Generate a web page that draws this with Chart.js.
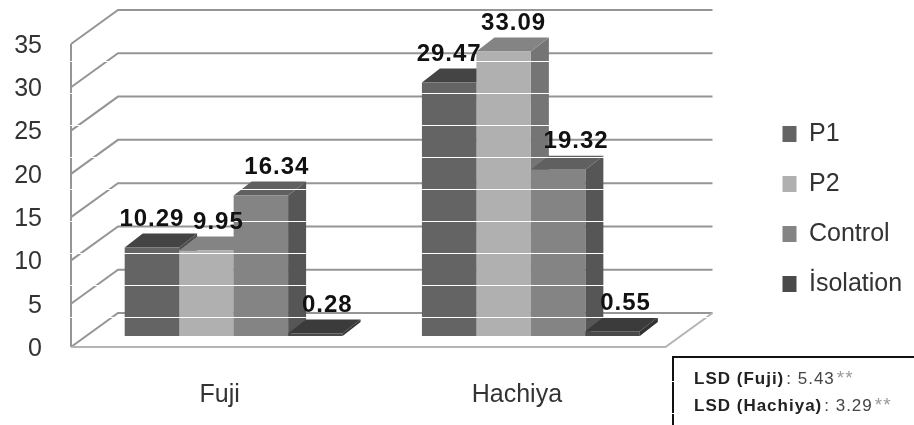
<!DOCTYPE html>
<html>
<head>
<meta charset="utf-8">
<style>
  html, body { margin: 0; padding: 0; background: #fff; }
  #wrap { position: relative; width: 914px; height: 425px; overflow: hidden; }
</style>
<script src="https://cdn.jsdelivr.net/npm/chart.js@4"></script>
</head>
<body>
<div id="wrap"><canvas id="statsChart" width="914" height="425"></canvas></div>
<script>
const categories = ['Fuji', 'Hachiya'];
const p1Values = [10.29, 29.47];
const p2Values = [9.95, 33.09];
const controlValues = [16.34, 19.32];
const isolationValues = [0.28, 0.55];
const lsdNotes = [
    ['LSD (Fuji)', ': 5.43', '**'],
    ['LSD (Hachiya)', ': 3.29', '**']
];

const FONT = '"Liberation Sans", Arial, sans-serif';
const WALL_DX = 47, WALL_DY = -34;   // depth of the chart floor
const BAR_DX = 18, BAR_DY = -14;     // depth of a single bar
const BAR_SHIFT = 14;                // bars sit right of the category centre

// shades for the 3d faces, one per dataset
const topColors = ['#444444', '#848484', '#606060', '#3b3b3b'];
const sideColors = ['#4e4e4e', '#757575', '#565656', '#333333'];
// data label nudges, the labels are not centred over the bars in the original
const labelNudge = [[0, 0], [12, 10], [16, 18], [12, 13]];

const threeD = {
    id: 'threeD',
    beforeDatasetsDraw(chart) {
        const c = chart.ctx, y = chart.scales.y, a = chart.chartArea;
        c.save();
        c.lineWidth = 2;
        c.strokeStyle = '#959595';
        y.ticks.forEach(t => {
            const py = y.getPixelForValue(t.value);
            c.beginPath();
            c.moveTo(a.left, py);
            c.lineTo(a.left + WALL_DX, py + WALL_DY);
            c.lineTo(a.right + WALL_DX, py + WALL_DY);
            c.stroke();
        });
        c.beginPath();
        c.moveTo(a.left, a.top);
        c.lineTo(a.left, a.bottom);
        c.stroke();
        // floor front and right edge
        c.strokeStyle = '#b4b4b4';
        c.beginPath();
        c.moveTo(a.left, a.bottom);
        c.lineTo(a.right, a.bottom);
        c.lineTo(a.right + WALL_DX, a.bottom + WALL_DY);
        c.stroke();
        c.restore();
    },
    // chart.js paints the last dataset first, here the first one has to go first
    beforeDatasetDraw() {
        return false;
    },
    afterDatasetsDraw(chart) {
        const c = chart.ctx;
        c.save();
        c.translate(BAR_SHIFT, 0);
        chart.data.datasets.forEach((ds, i) => {
            chart.getDatasetMeta(i).data.forEach(b => {
                const l = b.x - b.width / 2, r = b.x + b.width / 2;
                c.fillStyle = sideColors[i];
                c.beginPath();
                c.moveTo(r, b.y);
                c.lineTo(r + BAR_DX, b.y + BAR_DY);
                c.lineTo(r + BAR_DX, b.base + BAR_DY);
                c.lineTo(r, b.base);
                c.closePath();
                c.fill();
                c.fillStyle = topColors[i];
                c.beginPath();
                c.moveTo(l, b.y);
                c.lineTo(l + BAR_DX, b.y + BAR_DY);
                c.lineTo(r + BAR_DX, b.y + BAR_DY);
                c.lineTo(r, b.y);
                c.closePath();
                c.fill();
                b.draw(c);
            });
        });
        c.restore();
        c.save();
        // the boxed LSD note
        c.strokeStyle = '#111';
        c.lineWidth = 2;
        c.beginPath();
        c.moveTo(673, 425);
        c.lineTo(673, 357);
        c.lineTo(914, 357);
        c.stroke();
        // white scan lines that run through the original picture
        c.fillStyle = '#fff';
        for (let py = 61; py < 425; py += 32) {
            c.fillRect(60, py, 710, 1);
        }
        c.textBaseline = 'middle';
        c.letterSpacing = '1px';
        lsdNotes.forEach((parts, k) => {
            const py = 379 + k * 27;
            let px = 694;
            const colors = ['#222', '#444', '#999'];
            const fonts = ['bold 17px ', '17px ', '19px '];
            parts.forEach((s, n) => {
                c.font = fonts[n] + FONT;
                c.fillStyle = colors[n];
                c.fillText(s, px, py);
                px += c.measureText(s).width + 2;
            });
        });
        c.font = 'bold 24px ' + FONT;
        c.letterSpacing = '1px';
        c.fillStyle = '#111';
        c.textAlign = 'center';
        chart.data.datasets.forEach((ds, i) => {
            chart.getDatasetMeta(i).data.forEach((b, j) => {
                c.fillText(String(ds.data[j]), b.x + BAR_SHIFT + labelNudge[i][j], b.y - 28);
            });
        });
        c.restore();
    }
};

new Chart(document.getElementById('statsChart'), {
    type: 'bar',
    data: {
        labels: categories,
        datasets: [
            { label: 'P1', data: p1Values, backgroundColor: '#646464' },
            { label: 'P2', data: p2Values, backgroundColor: '#b0b0b0' },
            { label: 'Control', data: controlValues, backgroundColor: '#848484' },
            { label: 'İsolation', data: isolationValues, backgroundColor: '#4a4a4a' }
        ].map(d => Object.assign(d, {
            yAxisID: 'bars',
            categoryPercentage: 0.733,
            barPercentage: 1,
            borderWidth: 0
        }))
    },
    plugins: [threeD],
    options: {
        responsive: false,
        animation: false,
        layout: { padding: { top: 0, bottom: 7, left: 0, right: 5 } },
        scales: {
            x: {
                grid: { display: false },
                border: { display: false },
                ticks: { color: '#333', padding: 25, font: { family: FONT, size: 25 } },
                afterFit(s) { s.height = 71; }
            },
            y: {
                min: 0,
                max: 35,
                grid: { display: false },
                border: { display: false },
                ticks: { stepSize: 5, color: '#333', padding: 21, labelOffset: 2, font: { family: FONT, size: 25 } },
                afterFit(s) { s.width = 71; }
            },
            // bars stand in front of the back wall, so they get their own scale
            bars: {
                position: 'right',
                min: -1.28,
                max: 33.95,
                grid: { display: false },
                border: { display: false },
                ticks: { display: false },
                afterFit(s) { s.width = 92; }
            }
        },
        plugins: {
            tooltip: { enabled: false },
            // empty title only keeps the plot area down while the legend stays centred higher
            title: { display: true, text: '', padding: { top: 24, bottom: 0 }, font: { size: 20, lineHeight: 1 } },
            legend: {
                position: 'right',
                labels: {
                    color: '#333',
                    boxWidth: 14,
                    boxHeight: 16,
                    padding: 25,
                    font: { family: FONT, size: 25 }
                }
            }
        }
    }
});
</script>
</body>
</html>
